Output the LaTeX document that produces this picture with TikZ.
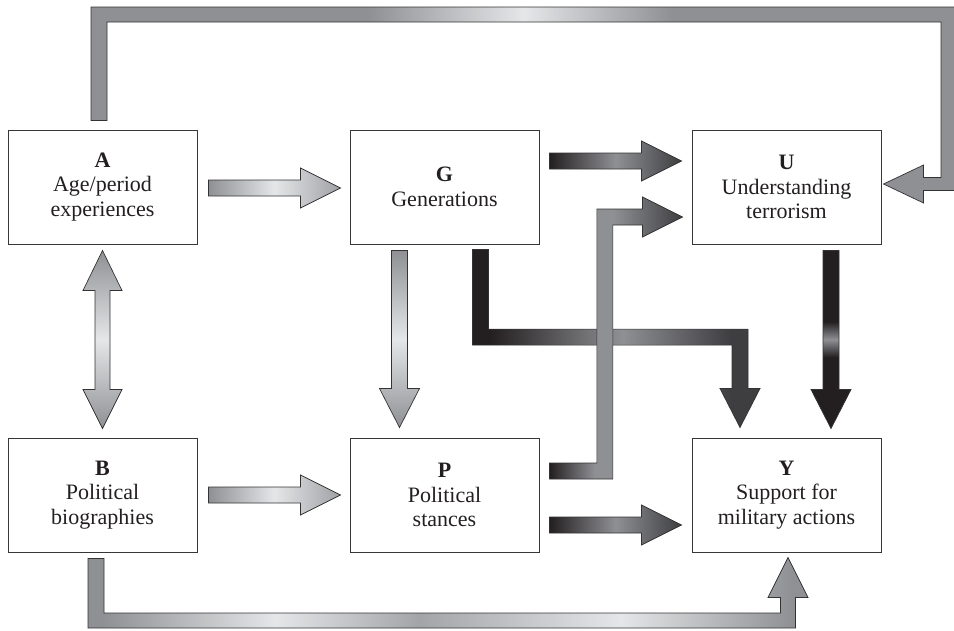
\documentclass[tikz,border=0pt]{standalone}
\usepackage{fontspec}
\setmainfont{Liberation Serif}
\usetikzlibrary{calc}
\definecolor{agray}{RGB}{143,144,148}
\definecolor{alight}{RGB}{229,230,232}
\definecolor{adark}{RGB}{35,31,32}
\definecolor{adarkgray}{RGB}{62,62,65}
\definecolor{amid}{RGB}{163,164,168}
\definecolor{boxline}{RGB}{55,55,55}
\pgfdeclarehorizontalshading{topband}{100bp}{color(0bp)=(agray); color(41bp)=(agray); color(50bp)=(alight); color(58.6bp)=(agray); color(100bp)=(agray)}
\pgfdeclarehorizontalshading{bottomband}{100bp}{color(0bp)=(agray); color(26bp)=(agray); color(38bp)=(alight); color(48bp)=(amid); color(62bp)=(alight); color(74bp)=(agray); color(100bp)=(agray)}
\pgfdeclarehorizontalshading{gyshade}{100bp}{color(0bp)=(adark); color(28bp)=(adark); color(51bp)=(agray); color(70bp)=(adarkgray); color(100bp)=(adarkgray)}
\pgfdeclarehorizontalshading{pushade}{100bp}{color(0bp)=(adark); color(25bp)=(adark); color(42bp)=(agray); color(49bp)=(agray); color(75bp)=(adarkgray); color(100bp)=(adarkgray)}
\pgfdeclareverticalshading{uyshade}{100bp}{color(0bp)=(adark); color(45bp)=(adark); color(50bp)=(agray); color(55bp)=(adark); color(100bp)=(adark)}
\pgfdeclarehorizontalshading{lighthshade}{100bp}{color(0bp)=(agray); color(25bp)=(agray); color(50bp)=(alight); color(75bp)=(agray!85!white); color(100bp)=(agray!85!white)}
\pgfdeclarehorizontalshading{darkhshade}{100bp}{color(0bp)=(adark); color(25bp)=(adark); color(50bp)=(agray); color(75bp)=(adarkgray); color(100bp)=(adarkgray)}
\pgfdeclareverticalshading{lightvshade}{100bp}{color(0bp)=(agray); color(25bp)=(agray); color(50bp)=(alight); color(75bp)=(agray); color(100bp)=(agray)}
\tikzset{
  box/.style={draw=boxline, line width=1pt, fill=white, minimum width=189pt,
    minimum height=114pt, inner sep=0pt, align=center, text=adark,
    font=\fontsize{22}{24.5}\selectfont},
  arrowline/.style={draw=black!80, line width=0.7pt},
  lighth/.style={arrowline, shading=lighthshade},
  lightv/.style={arrowline, shading=lightvshade},
  darkh/.style={arrowline, shading=darkhshade},
}
% horizontal block arrow: #1 style, #2 start, #3 tip
\newcommand{\rightblock}[3]{%
  \path[#1] let \p1=#2, \p2=#3 in
    (\x1,\y1+8pt) -- (\x2-40pt,\y1+8pt) -- (\x2-40pt,\y1+20pt) -- (\x2,\y1)
    -- (\x2-40pt,\y1-20pt) -- (\x2-40pt,\y1-8pt) -- (\x1,\y1-8pt) -- cycle;}
% vertical (downward) block arrow: #1 style, #2 start, #3 tip
\newcommand{\downblock}[3]{%
  \path[#1] let \p1=#2, \p2=#3 in
    (\x1-8pt,\y1) -- (\x1-8pt,\y2+39pt) -- (\x1-20pt,\y2+39pt) -- (\x1,\y2)
    -- (\x1+20pt,\y2+39pt) -- (\x1+8pt,\y2+39pt) -- (\x1+8pt,\y1) -- cycle;}
\begin{document}
\begin{tikzpicture}[x=1pt,y=-1pt]
\useasboundingbox (0,0) rectangle (954,630);
\clip (0,0) rectangle (954,630);

% boxes
\node[box] (A) at (102.5,187) {\textbf{A}\\Age/period\\experiences};
\node[box] (G) at (444.5,187) {\textbf{G}\\Generations};
\node[box] (U) at (786.5,187) {\textbf{U}\\Understanding\\terrorism};
\node[box] (B) at (102.5,495) {\textbf{B}\\Political\\biographies};
\node[box] (P) at (444.5,495) {\textbf{P}\\Political\\stances};
\node[box] (Y) at (786.5,495) {\textbf{Y}\\Support for\\military actions};

\coordinate (fbTR) at (948.5,14.5);
\coordinate (fbB) at (0,620.5);

% A -> U feedback over the top
\path[arrowline, shading=topband] let \p1=($(A.north)+(-3.5,-9)$), \p2=($(U.east)+(2,-3)$), \p3=(fbTR) in
  (\x1-8pt,\y1) -- (\x1-8pt,\y3+7.5pt) -- (\x3+7.5pt,\y3+7.5pt) -- (\x3+7.5pt,\y2-6.5pt)
  -- (\x2+40pt,\y2-6.5pt) -- (\x2+40pt,\y2-19pt) -- (\x2,\y2) -- (\x2+40pt,\y2+19pt)
  -- (\x2+40pt,\y2+6.5pt) -- (\x3-7.5pt,\y2+6.5pt) -- (\x3-7.5pt,\y3-7.5pt)
  -- (\x1+8pt,\y3-7.5pt) -- (\x1+8pt,\y1) -- cycle;

% B -> Y feedback along the bottom
\path[arrowline, shading=bottomband] let \p1=($(B.south)+(-6.5,6)$), \p2=($(Y.south)+(1.5,5)$), \p3=(fbB) in
  (\x1-8pt,\y1) -- (\x1-8pt,\y3-7.5pt) -- (\x2+7.5pt,\y3-7.5pt) -- (\x2+7.5pt,\y2-40pt)
  -- (\x2+20pt,\y2-40pt) -- (\x2,\y2) -- (\x2-20pt,\y2-40pt) -- (\x2-7.5pt,\y2-40pt)
  -- (\x2-7.5pt,\y3+7.5pt) -- (\x1+8pt,\y3+7.5pt) -- (\x1+8pt,\y1) -- cycle;

% A <-> B
\path[lightv] let \p1=($(A.south)+(0,6)$), \p2=($(B.north)+(0,-9)$) in
  (\x1,\y1) -- (\x1+19.5pt,\y1-40pt) -- (\x1+7.5pt,\y1-40pt) -- (\x1+7.5pt,\y2+39pt)
  -- (\x1+19.5pt,\y2+39pt) -- (\x1,\y2) -- (\x1-19.5pt,\y2+39pt) -- (\x1-7.5pt,\y2+39pt)
  -- (\x1-7.5pt,\y1-40pt) -- (\x1-19.5pt,\y1-40pt) -- cycle;

% straight arrows
\rightblock{lighth}{($(A.east)+(11,1)$)}{($(G.west)+(-9,1)$)}
\rightblock{lighth}{($(B.east)+(11,0)$)}{($(P.west)+(-9,0)$)}
\rightblock{darkh}{($(G.east)+(10,-26)$)}{($(U.west)+(-10,-26)$)}
\rightblock{darkh}{($(P.east)+(10,30)$)}{($(Y.west)+(-10,30)$)}
\downblock{lightv}{($(G.south)+(-45,6)$)}{($(P.north)+(-45,-10)$)}
\downblock{arrowline, shading=uyshade}{($(U.south)+(44.5,6)$)}{($(Y.north)+(44.5,-9)$)}

% G -> Y (bent)
\path[arrowline, shading=gyshade] let \p1=($(G.south)+(36,5)$), \p2=($(Y.north)+(-46.5,-10)$), \p3=($(G.south)!0.48!(P.north)$) in
  (\x1-8pt,\y1) -- (\x1-8pt,\y3-8pt) -- (\x2-8pt,\y3-8pt) -- (\x2-8pt,\y2+39pt)
  -- (\x2-20pt,\y2+39pt) -- (\x2,\y2) -- (\x2+20pt,\y2+39pt) -- (\x2+8pt,\y2+39pt)
  -- (\x2+8pt,\y3+8pt) -- (\x1+8pt,\y3+8pt) -- (\x1+8pt,\y1) -- cycle;

% P -> U (bent, drawn over G -> Y)
\path[arrowline, shading=pushade] let \p1=($(P.east)+(10,-24)$), \p2=($(U.west)+(-9,30)$), \p3=($(P.east)!0.43!(Y.west)$) in
  (\x1,\y1+8pt) -- (\x3-8pt,\y1+8pt) -- (\x3-8pt,\y2+8pt) -- (\x2-40pt,\y2+8pt)
  -- (\x2-40pt,\y2+20pt) -- (\x2,\y2) -- (\x2-40pt,\y2-20pt) -- (\x2-40pt,\y2-8pt)
  -- (\x3+8pt,\y2-8pt) -- (\x3+8pt,\y1-8pt) -- (\x1,\y1-8pt) -- cycle;
\end{tikzpicture}
\end{document}
